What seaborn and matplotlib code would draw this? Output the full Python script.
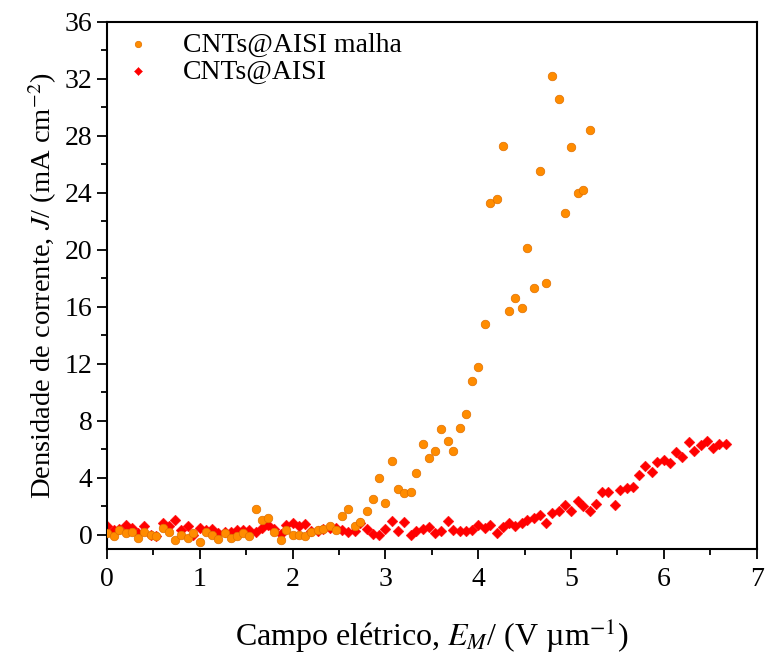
import numpy as np
import pandas as pd
import seaborn as sns
from matplotlib import pyplot as plt
from matplotlib.ticker import MultipleLocator

# CNTs@AISI malha (orange circles)
malha_x = [0.00, 0.07, 0.13, 0.20, 0.27, 0.33, 0.40, 0.47, 0.53, 0.60,
           0.67, 0.73, 0.80, 0.87, 0.93, 1.00, 1.07, 1.13, 1.20, 1.27,
           1.33, 1.40, 1.47, 1.53, 1.60, 1.67, 1.73, 1.80, 1.87, 1.93,
           2.00, 2.07, 2.13, 2.20, 2.27, 2.33, 2.40, 2.47, 2.53, 2.60,
           2.67, 2.73, 2.80, 2.87, 2.93, 3.00, 3.07, 3.13, 3.20, 3.27,
           3.33, 3.40, 3.47, 3.53, 3.60, 3.67, 3.73, 3.80, 3.87, 3.93,
           4.00, 4.07, 4.13, 4.20, 4.27, 4.33, 4.40, 4.47, 4.53, 4.60,
           4.67, 4.73, 4.80, 4.87, 4.93, 5.00, 5.07, 5.13, 5.20]
malha_j = [0.1, -0.1, 0.3, 0.1, 0.2, -0.2, 0.2, 0.0, -0.1, 0.5,
           0.2, -0.4, -0.05, -0.2, 0.1, -0.5, 0.2, 0.0, -0.3, 0.1,
           -0.2, -0.1, 0.1, -0.1, 1.8, 1.0, 1.2, 0.2, -0.4, 0.3,
           -0.05, -0.05, -0.1, 0.2, 0.3, 0.4, 0.6, 0.3, 1.3, 1.8,
           0.6, 0.9, 1.7, 2.5, 4.0, 2.2, 5.2, 3.2, 2.9, 3.0,
           4.3, 6.4, 5.4, 5.9, 7.4, 6.6, 5.9, 7.5, 8.5, 10.8,
           11.8, 14.8, 23.3, 23.6, 27.3, 15.7, 16.6, 15.9, 20.1, 17.3,
           25.5, 17.7, 32.2, 30.6, 22.6, 27.2, 24.0, 24.2, 28.4]

# CNTs@AISI (red diamonds)
aisi_x = [0.00, 0.07, 0.13, 0.20, 0.27, 0.33, 0.40, 0.47, 0.53, 0.60,
          0.67, 0.73, 0.80, 0.87, 0.93, 1.00, 1.07, 1.13, 1.20, 1.27,
          1.33, 1.40, 1.47, 1.53, 1.60, 1.67, 1.73, 1.80, 1.87, 1.93,
          2.00, 2.07, 2.13, 2.20, 2.27, 2.33, 2.40, 2.47, 2.53, 2.60,
          2.67, 2.73, 2.80, 2.87, 2.93, 3.00, 3.07, 3.13, 3.20, 3.27,
          3.33, 3.40, 3.47, 3.53, 3.60, 3.67, 3.73, 3.80, 3.87, 3.93,
          4.00, 4.07, 4.13, 4.20, 4.27, 4.33, 4.40, 4.47, 4.53, 4.60,
          4.67, 4.73, 4.80, 4.87, 4.93, 5.00, 5.07, 5.13, 5.20, 5.27,
          5.33, 5.40, 5.47, 5.53, 5.60, 5.67, 5.73, 5.80, 5.87, 5.93,
          6.00, 6.07, 6.13, 6.20, 6.27, 6.33, 6.40, 6.47, 6.53, 6.60,
          6.67]
aisi_j = [0.6, 0.3, 0.4, 0.7, 0.5, 0.1, 0.6, 0.0, -0.1, 0.8,
          0.6, 1.0, 0.3, 0.6, 0.0, 0.45, 0.3, 0.4, 0.1, 0.2,
          0.2, 0.3, 0.35, 0.3, 0.2, 0.45, 0.65, 0.37, 0.07, 0.65,
          0.8, 0.58, 0.77, 0.23, 0.23, 0.37, 0.47, 0.47, 0.3, 0.19,
          0.23, 0.8, 0.42, 0.07, 0.0, 0.42, 0.95, 0.23, 0.88, 0.0,
          0.23, 0.4, 0.53, 0.14, 0.23, 0.93, 0.35, 0.23, 0.26, 0.3,
          0.7, 0.47, 0.65, 0.12, 0.53, 0.84, 0.6, 0.84, 1.0, 1.16,
          1.4, 0.84, 1.5, 1.63, 2.1, 1.67, 2.4, 2.05, 1.7, 2.16,
          3.0, 3.0, 2.1, 3.16, 3.26, 3.37, 4.2, 4.84, 4.42, 5.1,
          5.23, 5.0, 5.84, 5.47, 6.5, 5.9, 6.3, 6.6, 6.1, 6.4,
          6.4]

df_malha = pd.DataFrame({"E": malha_x, "J": malha_j})
df_aisi = pd.DataFrame({"E": aisi_x, "J": aisi_j})

sns.set_style("ticks")
plt.rcParams["font.family"] = ["Liberation Serif", "DejaVu Serif"]
plt.rcParams["mathtext.fontset"] = "stix"
plt.rcParams["text.color"] = "black"
plt.rcParams["axes.labelcolor"] = "black"

fig = plt.figure(figsize=(7.65, 6.63), dpi=100)
ax = fig.add_axes([0.140, 0.172, 0.849, 0.795])

sns.scatterplot(data=df_malha, x="E", y="J", ax=ax, marker="o", s=38,
                color="#FF8C00", edgecolor="#E07000", linewidth=0.5,
                label="CNTs@AISI malha", zorder=3)
sns.scatterplot(data=df_aisi, x="E", y="J", ax=ax, marker="D", s=30,
                color="#FF0000", edgecolor="#FF0000", linewidth=0.3,
                label="CNTs@AISI", zorder=2)

ax.set_xlim(0, 7)
ax.set_ylim(-1.0, 36)
ax.xaxis.set_major_locator(MultipleLocator(1))
ax.xaxis.set_minor_locator(MultipleLocator(0.5))
ax.yaxis.set_major_locator(MultipleLocator(4))
ax.yaxis.set_minor_locator(MultipleLocator(2))
ax.tick_params(which="both", direction="out", width=1.3, labelsize=20,
               top=False, right=False, colors="black", labelcolor="black")
ax.tick_params(which="major", length=7)
ax.tick_params(which="minor", length=4)
ax.tick_params(axis="x", which="major", pad=6)
for sp in ax.spines.values():
    sp.set_visible(True)
    sp.set_linewidth(1.5)
    sp.set_color("black")

ax.set_xlabel(r"Campo elétrico, $E_M$/ (V µm$^{-1}$)", fontsize=23, labelpad=18)
ax.set_ylabel(r"Densidade de corrente, $J$/ (mA cm$^{-2}$)", fontsize=20.5, labelpad=4)

leg = ax.legend(loc="upper left", frameon=False, fontsize=20, markerscale=0.75,
                handletextpad=0.8, handlelength=1.6, borderaxespad=0.2,
                labelspacing=0.05, bbox_to_anchor=(-0.012, 1.012))
for t in leg.get_texts():
    t.set_color("black")

fig.savefig("out.png", dpi=100)
plt.close(fig)
